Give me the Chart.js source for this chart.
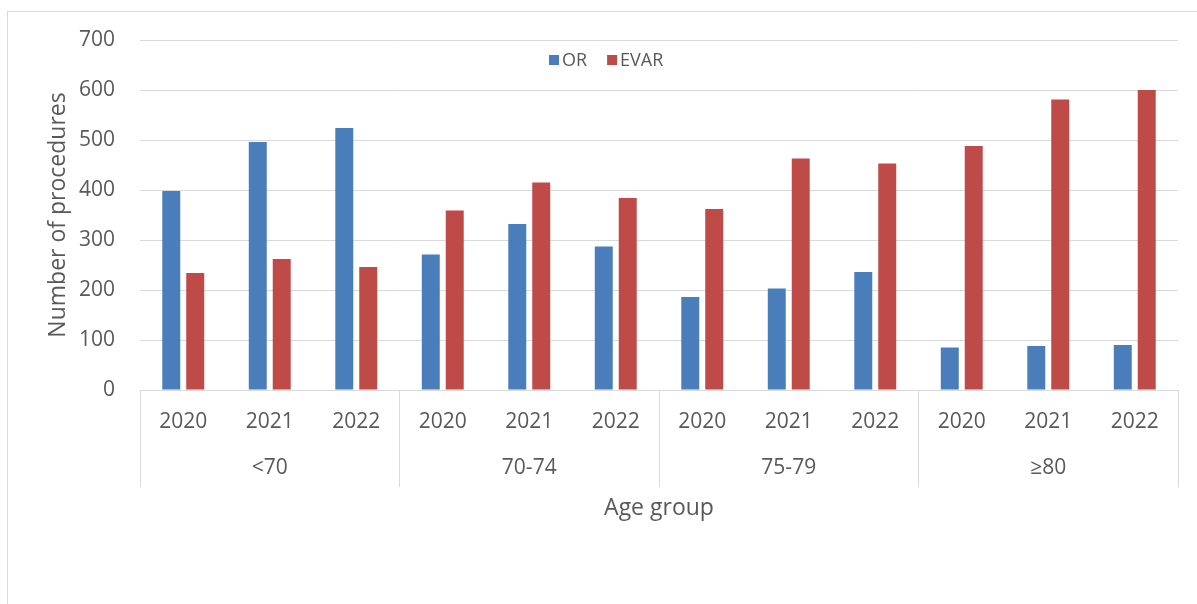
<!DOCTYPE html>
<html>
<head>
<meta charset="utf-8">
<script src="https://cdn.jsdelivr.net/npm/chart.js@4.4.0/dist/chart.umd.min.js"></script>
<style>
  html, body { margin: 0; padding: 0; background: #fff; }
  #wrap { position: relative; width: 1197px; height: 604px; overflow: hidden; }
  #frame { position: absolute; left: 7px; top: 11px; width: 1200px; height: 700px; border: 1px solid #d9d9d9; box-sizing: border-box; }
  #chart { position: absolute; left: 0; top: 0; }
</style>
</head>
<body>
<div id="wrap">
  <div id="frame"></div>
  <canvas id="chart" width="1197" height="604"></canvas>
</div>
<script>
// Data
const years = ['2020', '2021', '2022', '2020', '2021', '2022', '2020', '2021', '2022', '2020', '2021', '2022'];
const ageGroups = ['<70', '70-74', '75-79', '≥80'];
const orValues = [398, 496, 524, 271, 332, 287, 186, 203, 236, 85, 88, 90];
const evarValues = [234, 262, 246, 359, 415, 384, 362, 463, 453, 488, 581, 600];
const yTicks = [0, 100, 200, 300, 400, 500, 600, 700];

const textColor = '#595959';
const gridColor = '#d9d9d9';
const fontFamily = "'Open Sans', 'Noto Sans', sans-serif";

// legend sits inside the plot area, like the original
const innerLegend = {
  id: 'innerLegend',
  afterDraw(chart) {
    const ctx = chart.ctx;
    let x = 549;
    const y = 60;
    ctx.save();
    ctx.font = '18px ' + fontFamily;
    ctx.textBaseline = 'middle';
    chart.data.datasets.forEach(ds => {
      ctx.fillStyle = ds.backgroundColor;
      ctx.fillRect(x, y - 5, 10, 10);
      ctx.fillStyle = textColor;
      ctx.fillText(ds.label, x + 13, y + 1);
      x += 13 + ctx.measureText(ds.label).width + 20;
    });
    ctx.restore();
  }
};

// divider ticks only at the age group boundaries
const groupLine = ctx => (ctx.type !== 'tick' || ctx.index % 3 === 0 ? gridColor : 'rgba(0,0,0,0)');

new Chart(document.getElementById('chart'), {
  type: 'bar',
  data: {
    labels: years,
    datasets: [{
      label: 'OR',
      data: orValues,
      backgroundColor: '#4a7ebb',
      categoryPercentage: 0.554,
      barPercentage: 0.75
    }, {
      label: 'EVAR',
      data: evarValues,
      backgroundColor: '#be4b48',
      categoryPercentage: 0.554,
      barPercentage: 0.75
    }]
  },
  options: {
    responsive: false,
    animation: false,
    layout: {
      padding: { left: 10, right: 19, top: 40, bottom: 82 }
    },
    plugins: {
      legend: { display: false },
      tooltip: { enabled: false }
    },
    scales: {
      x: {
        position: 'bottom',
        offset: true,
        grid: {
          offset: true,
          drawOnChartArea: false,
          tickLength: 50,
          color: groupLine,
          tickColor: groupLine
        },
        border: { display: true, color: gridColor },
        ticks: {
          padding: -31,
          color: textColor,
          font: { family: fontFamily, size: 21 },
          maxRotation: 0,
          autoSkip: false
        },
        afterFit(scale) { scale.height = 42; }
      },
      x2: {
        type: 'category',
        position: 'bottom',
        labels: ageGroups,
        offset: true,
        grid: {
          offset: true,
          drawOnChartArea: false,
          tickLength: 55,
          color: gridColor
        },
        border: { display: false },
        ticks: {
          padding: -32,
          color: textColor,
          font: { family: fontFamily, size: 21 },
          maxRotation: 0,
          autoSkip: false
        },
        title: {
          display: true,
          text: 'Age group',
          color: textColor,
          font: { family: fontFamily, size: 23 },
          padding: { top: 0, bottom: 0 }
        },
        afterFit(scale) { scale.height = 90; }
      },
      y: {
        min: 0,
        max: 700,
        afterBuildTicks(scale) { scale.ticks = yTicks.map(v => ({ value: v })); },
        grid: { color: gridColor, drawTicks: false },
        border: { display: false },
        ticks: {
          padding: 25,
          color: textColor,
          font: { family: fontFamily, size: 21 }
        },
        title: {
          display: true,
          text: 'Number of procedures',
          color: textColor,
          font: { family: fontFamily, size: 23 },
          padding: { top: 35, bottom: 0 }
        },
        afterFit(scale) { scale.width = 130; }
      }
    }
  },
  plugins: [innerLegend]
});
</script>
</body>
</html>
